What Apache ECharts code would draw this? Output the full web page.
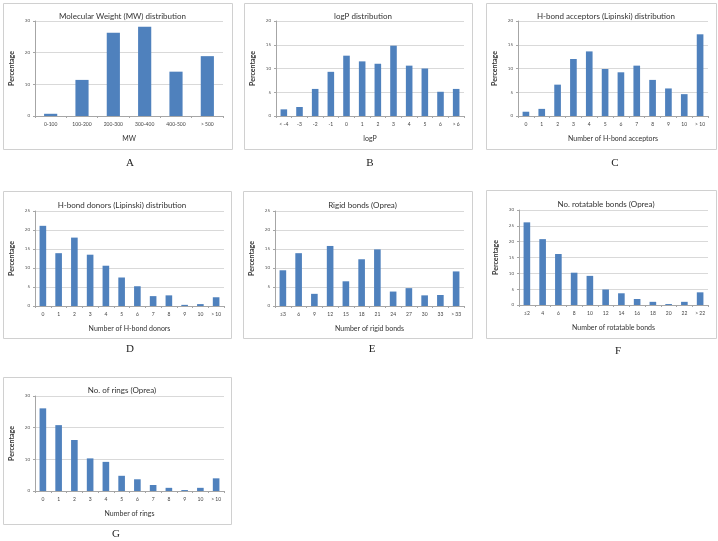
<!DOCTYPE html>
<html><head><meta charset="utf-8">
<script src="https://cdn.jsdelivr.net/npm/echarts@6/dist/echarts.min.js"></script>
<style>html,body{margin:0;padding:0;background:#fff}#c{width:718px;height:541px}</style>
</head><body><div id="c"></div>
<script>
// ---- data ----
const mwCategories = ['0-100', '100-200', '200-300', '300-400', '400-500', '> 500'];
const mwValues = [0.7, 11.4, 26.3, 28.2, 14.0, 18.9];
const logpCategories = ['< -4', '-3', '-2', '-1', '0', '1', '2', '3', '4', '5', '6', '> 6'];
const logpValues = [1.4, 1.9, 5.7, 9.3, 12.7, 11.5, 11.0, 14.8, 10.6, 10.0, 5.1, 5.7];
const hbaCategories = ['0', '1', '2', '3', '4', '5', '6', '7', '8', '9', '10', '> 10'];
const hbaValues = [0.9, 1.5, 6.6, 12.0, 13.6, 9.9, 9.2, 10.6, 7.6, 5.8, 4.6, 17.2];
const hbdCategories = ['0', '1', '2', '3', '4', '5', '6', '7', '8', '9', '10', '> 10'];
const hbdValues = [21.1, 13.9, 18.0, 13.5, 10.6, 7.5, 5.2, 2.6, 2.8, 0.3, 0.5, 2.3];
const rigidCategories = ['≤3', '6', '9', '12', '15', '18', '21', '24', '27', '30', '33', '> 33'];
const rigidValues = [9.4, 13.9, 3.2, 15.8, 6.5, 12.3, 14.9, 3.8, 4.7, 2.8, 2.9, 9.1];
const rotCategories = ['≤2', '4', '6', '8', '10', '12', '14', '16', '18', '20', '22', '> 22'];
const rotValues = [26.1, 20.8, 16.1, 10.2, 9.2, 4.9, 3.7, 1.9, 1.0, 0.3, 1.0, 4.0];
const ringCategories = ['0', '1', '2', '3', '4', '5', '6', '7', '8', '9', '10', '> 10'];
const ringValues = [26.1, 20.8, 16.1, 10.3, 9.2, 4.8, 3.7, 1.9, 1.0, 0.3, 1.0, 4.0];

const panelTitles = ['Molecular Weight (MW) distribution', 'logP distribution', 'H-bond acceptors (Lipinski) distribution',
  'H-bond donors (Lipinski) distribution', 'Rigid bonds (Oprea)', 'No. rotatable bonds (Oprea)', 'No. of rings (Oprea)'];
const xAxisNames = ['MW', 'logP', 'Number of H-bond acceptors', 'Number of H-bond donors',
  'Number of rigid bonds', 'Number of rotatable bonds', 'Number of rings'];
const yAxisName = 'Percentage';
const yMax = [30, 20, 20, 25, 25, 30, 30];
const yInterval = [10, 5, 5, 5, 5, 5, 10];
const panelLetters = ['A', 'B', 'C', 'D', 'E', 'F', 'G'];

const categorySets = [mwCategories, logpCategories, hbaCategories, hbdCategories, rigidCategories, rotCategories, ringCategories];
const valueSets = [mwValues, logpValues, hbaValues, hbdValues, rigidValues, rotValues, ringValues];

// ---- layout ----
const layout = [
  { box: [3, 3, 229, 146], grid: [35, 21, 188, 95], titleY: 7, letter: [130, 163] },
  { box: [244, 3, 228, 146], grid: [276, 21, 188, 95], titleY: 7, letter: [370, 163] },
  { box: [486, 3, 230, 146], grid: [518, 21, 190, 95], titleY: 7, letter: [615, 163] },
  { box: [3, 191, 228, 147], grid: [35, 211, 189, 95], titleY: 196, letter: [130, 349] },
  { box: [243, 191, 229, 147], grid: [275, 211, 189, 95], titleY: 196, letter: [372, 349] },
  { box: [486, 190, 230, 148], grid: [519, 210, 189, 95], titleY: 195, letter: [618, 351] },
  { box: [3, 377, 228, 147], grid: [35, 396, 189, 95], titleY: 381, letter: [116, 534] }
];

const FONT = 'Lato, "Open Sans", sans-serif';
const titles = [], grids = [], xAxes = [], yAxes = [], series = [], graphics = [];

layout.forEach((p, i) => {
  graphics.push({
    type: 'rect', shape: { x: p.box[0] + 0.5, y: p.box[1] + 0.5, width: p.box[2], height: p.box[3] },
    style: { fill: '#fff', stroke: '#d0d0d0', lineWidth: 1 }, z: -1
  });
  graphics.push({
    type: 'text', x: p.letter[0], y: p.letter[1],
    style: { text: panelLetters[i], font: '11px "Liberation Serif", serif', fill: '#222', textAlign: 'center', textVerticalAlign: 'middle' }
  });
  titles.push({
    text: panelTitles[i], left: p.box[0] + p.box[2] / 2, top: p.titleY, textAlign: 'center',
    textStyle: { fontFamily: FONT, fontSize: 8, fontWeight: 'normal', color: '#333' }
  });
  grids.push({ left: p.grid[0], top: p.grid[1], width: p.grid[2], height: p.grid[3], containLabel: false });
  xAxes.push({
    type: 'category', gridIndex: i, data: categorySets[i],
    name: xAxisNames[i], nameLocation: 'middle', nameGap: 19,
    nameTextStyle: { fontFamily: FONT, fontSize: 7, color: '#333' },
    axisLine: { lineStyle: { color: '#a6a6a6', width: 1 } },
    axisTick: { show: true, length: 2, lineStyle: { color: '#a6a6a6' } },
    axisLabel: { fontFamily: FONT, fontSize: 5, color: '#444', margin: 6, interval: 0 }
  });
  yAxes.push({
    type: 'value', gridIndex: i, min: 0, max: yMax[i], interval: yInterval[i],
    name: yAxisName, nameLocation: 'middle', nameGap: 20,
    nameTextStyle: { fontFamily: FONT, fontSize: 7, fontWeight: 'bold', color: '#333' },
    axisLine: { show: true, lineStyle: { color: '#a6a6a6', width: 1 } },
    axisTick: { show: true, length: 2, lineStyle: { color: '#a6a6a6' } },
    axisLabel: { fontFamily: FONT, fontSize: 4.5, color: '#555', margin: 5 },
    splitLine: { lineStyle: { color: '#d9d9d9', width: 1 } }
  });
  series.push({
    type: 'bar', xAxisIndex: i, yAxisIndex: i, data: valueSets[i], barWidth: '42%',
    itemStyle: { color: '#4f81bd' }, silent: true
  });
});

const chart = echarts.init(document.getElementById('c'), null, { renderer: 'canvas' });
chart.setOption({
  animation: false, backgroundColor: '#fff',
  title: titles, grid: grids, xAxis: xAxes, yAxis: yAxes, series: series, graphic: graphics
});
</script>
</body></html>
